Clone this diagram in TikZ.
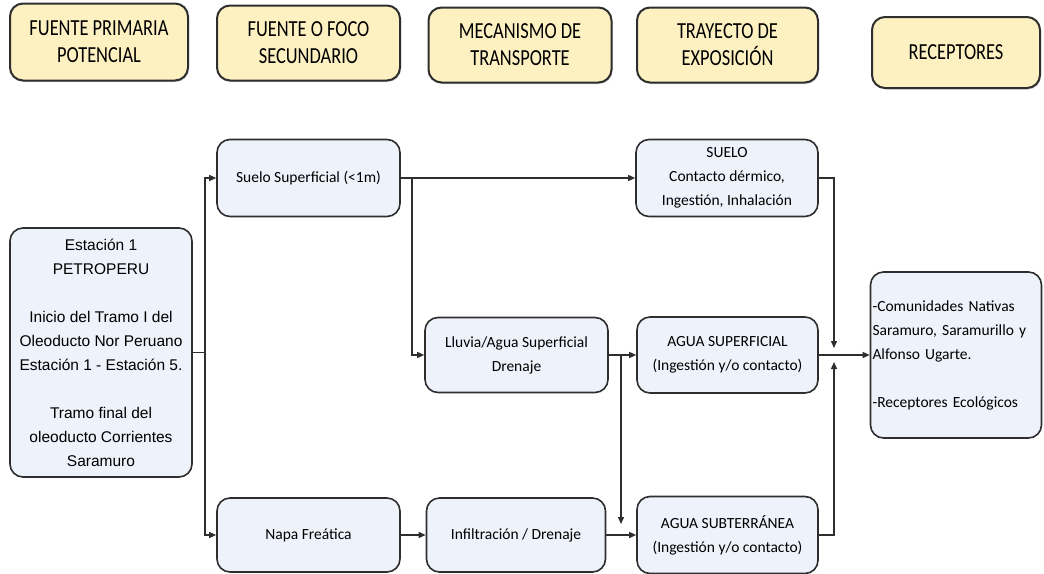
\documentclass[tikz,border=0pt]{standalone}
\usepackage{fontspec}
\setmainfont{Carlito}
\newfontfamily\arialf{Liberation Sans}
\newfontfamily\hdrf[FakeStretch=0.8]{Carlito}
\usetikzlibrary{arrows.meta,shadows}
\definecolor{hdrfill}{HTML}{FDF1C2}
\definecolor{boxfill}{HTML}{EEF2FA}
\definecolor{edge}{HTML}{2E2E2E}
\tikzset{
  hdr/.style={draw=edge, line width=2pt, rounded corners=13pt, fill=hdrfill,
    align=center, inner sep=0pt, font=\hdrf\fontsize{23}{27}\selectfont,
    drop shadow={shadow xshift=1pt, shadow yshift=-1.5pt, opacity=0.35}},
  bx/.style={draw=edge, line width=1.6pt, rounded corners=13pt, fill=boxfill,
    align=center, inner sep=0pt, font=\fontsize{15.5}{24}\selectfont},
  arr/.style={draw=edge, line width=1.4pt, -{Triangle[length=7pt,width=6pt]}},
  ln/.style={draw=edge, line width=1.4pt}
}
\begin{document}
\begin{tikzpicture}[x=1pt,y=-1pt]
\useasboundingbox (0,0) rectangle (1044,573);
% headers
\node[hdr, minimum width=178pt, minimum height=77pt] (h1) at (99,42) {FUENTE PRIMARIA\\POTENCIAL};
\node[hdr, minimum width=183pt, minimum height=75pt] (h2) at (308.5,43) {FUENTE O FOCO\\SECUNDARIO};
\node[hdr, minimum width=183pt, minimum height=75pt] (h3) at (520,45) {MECANISMO DE\\TRANSPORTE};
\node[hdr, minimum width=181pt, minimum height=75pt] (h4) at (727.5,45) {TRAYECTO DE\\EXPOSICIÓN};
\node[hdr, minimum width=168pt, minimum height=71pt] (h5) at (956,52.5) {RECEPTORES};
% boxes
\node[bx, minimum width=182pt, minimum height=249pt, font=\arialf\fontsize{15.5}{24}\selectfont] (est) at (101,352.5)
  {Estación 1\\PETROPERU\\[24pt]Inicio del Tramo I del\\Oleoducto Nor Peruano\\Estación 1 - Estación 5.\\[24pt]Tramo final del\\oleoducto Corrientes\\Saramuro};
\node[bx, minimum width=183pt, minimum height=77pt] (suelo) at (308.5,178) {Suelo Superficial (<1m)};
\node[bx, minimum width=183pt, minimum height=74pt] (napa) at (308.5,535) {Napa Freática};
\node[bx, minimum width=183pt, minimum height=75pt] (lluvia) at (516.5,355) {Lluvia/Agua Superficial\\Drenaje};
\node[bx, minimum width=179pt, minimum height=74pt] (infil) at (516,535) {Infiltración / Drenaje};
\node[bx, minimum width=182pt, minimum height=77pt] (sueloT) at (727,178) {SUELO\\Contacto dérmico,\\Ingestión, Inhalación};
\node[bx, minimum width=181pt, minimum height=76pt] (asup) at (727.5,355) {AGUA SUPERFICIAL\\(Ingestión y/o contacto)};
\node[bx, minimum width=181pt, minimum height=77pt] (asub) at (727.5,535) {AGUA SUBTERRÁNEA\\(Ingestión y/o contacto)};
\node[bx, minimum width=171pt, minimum height=166pt, text width=167pt, align=left, inner xsep=2pt] (rec) at (956,355)
  {-Comunidades Nativas\\Saramuro, Saramurillo y\\Alfonso Ugarte.\\[24pt]-Receptores Ecológicos};
% junctions
\coordinate (jl) at (205,352.5);
\coordinate (jb) at (412,178);
\coordinate (jd) at (621,355);
\coordinate (jde) at (621,524);
\coordinate (rtop) at (834,348);
\coordinate (rbot) at (834,362);
% connectors
\draw[ln] (est.east) -- (jl);
\draw[arr] (jl) |- (suelo.west);
\draw[arr] (jl) |- (napa.west);
\draw[arr] (suelo.east) -- (sueloT.west);
\draw[arr] (jb) |- (lluvia.west);
\draw[arr] (lluvia.east) -- (asup.west);
\draw[arr] (jd) -- (jde);
\draw[arr] (napa.east) -- (infil.west);
\draw[arr] (infil.east) -- (asub.west);
\draw[arr] (sueloT.east) -| (rtop);
\draw[arr] (asub.east) -| (rbot);
\draw[arr] (asup.east) -- (rec.west);
\end{tikzpicture}
\end{document}
